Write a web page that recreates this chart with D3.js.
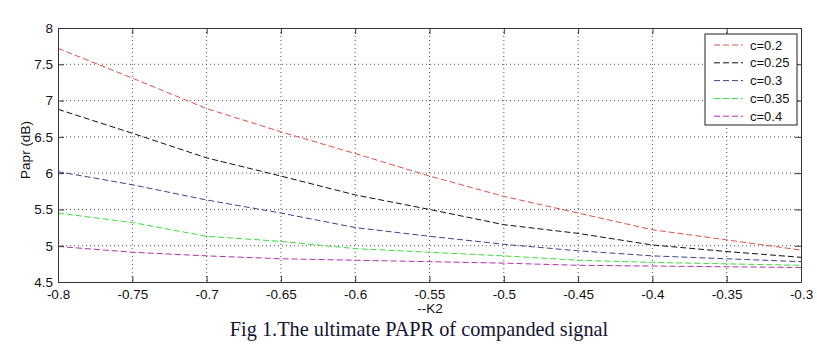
<!DOCTYPE html>
<html>
<head>
<meta charset="utf-8">
<script src="https://cdn.jsdelivr.net/npm/d3@7"></script>
<style>
  html, body { margin: 0; padding: 0; background: #fff; }
  svg { display: block; }
  text { font-family: Arial, "Liberation Sans", sans-serif; }
</style>
</head>
<body>
<svg id="chart" width="817" height="348"></svg>
<script>
// K2 values sampled along the x axis
const k2 = [-0.8, -0.75, -0.7, -0.65, -0.6, -0.55, -0.5, -0.45, -0.4, -0.35, -0.3];

// PAPR (dB) for each compression parameter c
const papr_c020 = [7.72, 7.31, 6.89, 6.57, 6.27, 5.96, 5.68, 5.45, 5.22, 5.08, 4.94];
const papr_c025 = [6.88, 6.55, 6.21, 5.96, 5.70, 5.50, 5.29, 5.17, 5.01, 4.92, 4.84];
const papr_c030 = [6.02, 5.84, 5.63, 5.45, 5.25, 5.13, 5.02, 4.93, 4.86, 4.82, 4.78];
const papr_c035 = [5.45, 5.32, 5.13, 5.06, 4.96, 4.91, 4.86, 4.80, 4.77, 4.75, 4.73];
const papr_c040 = [4.99, 4.91, 4.86, 4.82, 4.80, 4.78, 4.76, 4.73, 4.72, 4.71, 4.70];

const seriesNames = ["c=0.2", "c=0.25", "c=0.3", "c=0.35", "c=0.4"];
const seriesValues = [papr_c020, papr_c025, papr_c030, papr_c035, papr_c040];
const seriesColors = ["#e0504a", "#111111", "#42428e", "#3ade3a", "#b030b0"];

const xTicks = [-0.8, -0.75, -0.7, -0.65, -0.6, -0.55, -0.5, -0.45, -0.4, -0.35, -0.3];
const xTickLabels = ["-0.8", "-0.75", "-0.7", "-0.65", "-0.6", "-0.55", "-0.5", "-0.45", "-0.4", "-0.35", "-0.3"];
const yTicks = [4.5, 5, 5.5, 6, 6.5, 7, 7.5, 8];
const yTickLabels = ["4.5", "5", "5.5", "6", "6.5", "7", "7.5", "8"];

const svg = d3.select("#chart");
const plot = { left: 58, right: 801, top: 28, bottom: 282 };
const fontSize = 13.5;

const x = d3.scaleLinear().domain([-0.8, -0.3]).range([plot.left, plot.right]);
const y = d3.scaleLinear().domain([4.5, 8]).range([plot.bottom, plot.top]);

// dotted grid
const grid = svg.append("g");
grid.selectAll("line.gx").data(xTicks.slice(1, -1)).join("line")
  .attr("x1", d => x(d)).attr("x2", d => x(d))
  .attr("y1", plot.top).attr("y2", plot.bottom)
  .attr("stroke", "#555").attr("stroke-width", 1)
  .attr("stroke-dasharray", "1,3");
grid.selectAll("line.gy").data(yTicks.slice(1, -1)).join("line")
  .attr("x1", plot.left).attr("x2", plot.right)
  .attr("y1", d => y(d)).attr("y2", d => y(d))
  .attr("stroke", "#555").attr("stroke-width", 1)
  .attr("stroke-dasharray", "1,3");

// series
const line = d3.line().x((d, i) => x(k2[i])).y(d => y(d));
svg.append("g").selectAll("path").data(seriesValues).join("path")
  .attr("d", d => line(d))
  .attr("fill", "none")
  .attr("stroke", (d, i) => seriesColors[i])
  .attr("stroke-width", 1)
  .attr("stroke-dasharray", "6,3");

// axes: bottom/left with labels, top/right tick-only, ticks pointing inward
const axisColor = "#333";
function styleAxis(g) {
  g.selectAll("path").attr("stroke", axisColor);
  g.selectAll("line").attr("stroke", axisColor);
  g.selectAll("text").attr("fill", "#111").attr("font-size", fontSize);
}
svg.append("g").attr("transform", `translate(0,${plot.bottom})`)
  .call(d3.axisBottom(x).tickValues(xTicks).tickSizeInner(-6).tickSizeOuter(0).tickPadding(7)
    .tickFormat((d, i) => xTickLabels[i]))
  .call(styleAxis);
svg.append("g").attr("transform", `translate(0,${plot.top})`)
  .call(d3.axisTop(x).tickValues(xTicks).tickSizeInner(-6).tickSizeOuter(0).tickFormat(""))
  .call(styleAxis);
svg.append("g").attr("transform", `translate(${plot.left},0)`)
  .call(d3.axisLeft(y).tickValues(yTicks).tickSizeInner(-6).tickSizeOuter(0).tickPadding(5)
    .tickFormat((d, i) => yTickLabels[i]))
  .call(styleAxis);
svg.append("g").attr("transform", `translate(${plot.right},0)`)
  .call(d3.axisRight(y).tickValues(yTicks).tickSizeInner(-6).tickSizeOuter(0).tickFormat(""))
  .call(styleAxis);

// axis titles
svg.append("text").attr("x", 430).attr("y", 313).attr("text-anchor", "middle")
  .attr("font-size", fontSize).attr("fill", "#111").text("--K2");
svg.append("text").attr("transform", "translate(30,150) rotate(-90)")
  .attr("text-anchor", "middle").attr("font-size", fontSize).attr("fill", "#111").text("Papr (dB)");

// legend
const lg = svg.append("g");
lg.append("rect").attr("x", 705).attr("y", 34).attr("width", 92).attr("height", 91)
  .attr("fill", "#fff").attr("stroke", "#222").attr("stroke-width", 1);
const items = lg.selectAll("g.item").data(seriesNames).join("g")
  .attr("transform", (d, i) => `translate(0,${45 + i * 17.8})`);
items.append("line").attr("x1", 714).attr("x2", 743).attr("y1", 0).attr("y2", 0)
  .attr("stroke", (d, i) => seriesColors[i]).attr("stroke-width", 1)
  .attr("stroke-dasharray", "6,3");
items.append("text").attr("x", 750).attr("y", 0).attr("dy", "0.35em")
  .attr("font-size", 13).attr("fill", "#111").text(d => d);

// caption
svg.append("text").attr("x", 419).attr("y", 336).attr("text-anchor", "middle")
  .style("font-family", "'Liberation Serif', 'Times New Roman', serif")
  .attr("font-size", 20.3).attr("fill", "#141432")
  .text("Fig 1.The ultimate PAPR of companded signal");
</script>
</body>
</html>
